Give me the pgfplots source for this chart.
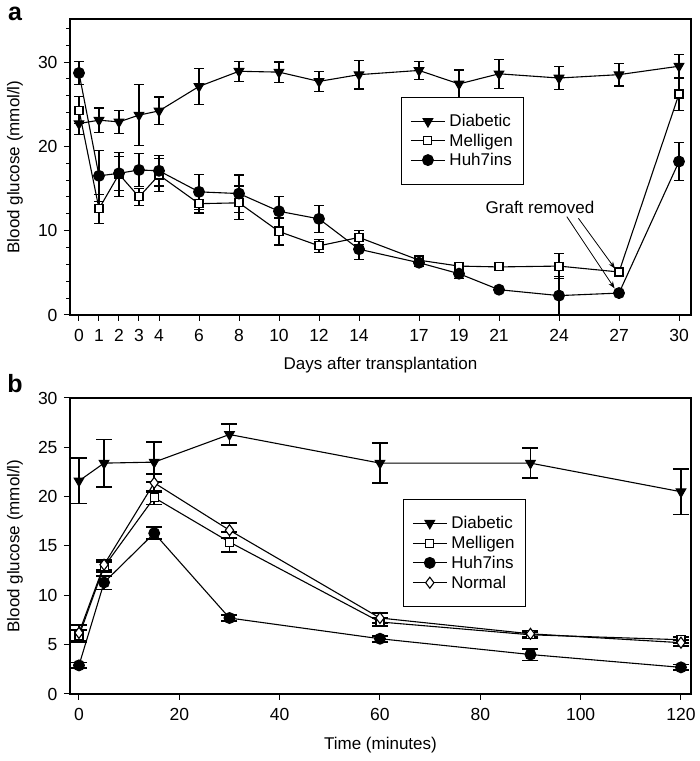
\documentclass[border=0pt]{standalone}
\usepackage{fontspec}
\setmainfont{Liberation Sans}
\usepackage{pgfplots}
\pgfplotsset{compat=1.18}
\usetikzlibrary{arrows.meta}
\pgfplotsset{
  common/.style={
    scale only axis, width=621pt, height=296pt,
    axis line style={line width=1.8pt},
    tick align=outside, xtick pos=left, ytick pos=left,
    major tick length=6pt, minor tick length=3.5pt,
    every tick/.style={black, line width=1pt},
    /pgf/number format/assume math mode=true,
    tick label style={font=\fontsize{17.5}{20}\selectfont},
    xticklabel style={yshift=-5pt},
    yticklabel style={xshift=-3pt},
    label style={font=\fontsize{17}{20}\selectfont},
    legend cell align=left,
    legend style={font=\fontsize{17}{20}\selectfont, draw=black, line width=0.8pt,
      anchor=north west, inner xsep=9pt, inner ysep=15pt, row sep=1.5pt, column sep=2pt},
    legend image code/.code={\draw[mark repeat=2,mark phase=2] plot coordinates {(0pt,0pt) (17pt,0pt) (34pt,0pt)};},
    every axis plot/.append style={line width=1.1pt, black},
  },
  diab/.style={mark=triangle*, mark size=5.5pt, mark options={rotate=180, fill=black}},
  mell/.style={mark=square*, mark size=4pt, mark options={fill=white}},
  huh/.style={mark=*, mark size=5.4pt, mark options={fill=black}},
  norm/.style={mark=diamond*, mark size=5.5pt, mark options={fill=white}},
}
\begin{document}
\begin{tikzpicture}
\useasboundingbox (0,0) rectangle (700pt,761pt);
\node[font=\bfseries\fontsize{25}{28}\selectfont] at (15pt,747pt) {a};
\node[font=\bfseries\fontsize{25}{28}\selectfont] at (15pt,377pt) {b};
% ---------------- panel a
\begin{axis}[common, at={(70pt,446pt)}, anchor=south west,
  xmin=-0.45, xmax=30.6, ymin=0, ymax=35.1,
  xtick={0,1,2,3,4,6,8,10,12,14,17,19,21,24,27,30},
  ytick={0,10,20,30}, minor ytick={2,4,6,8,12,14,16,18,22,24,26,28,32,34},
  xlabel={Days after transplantation}, ylabel={Blood glucose (mmol/l)},
  xlabel style={at={(axis description cs:0.5,-0.168)}, anchor=center},
  ylabel style={at={(axis description cs:-0.0886,0.5)}, anchor=center},
  legend style={at={(0.533,0.736)}},
  error bars/y dir=both, error bars/y explicit,
  error bars/error bar style={line width=1.1pt},
  error bars/error mark options={rotate=90, mark size=5pt, line width=1.1pt},
]
\addplot[diab] table[x=x, y=y, y error=e] {
x y e
0 22.7 1.35
1 23.1 1.45
2 22.9 1.4
3 23.7 3.6
4 24.2 1.65
6 27.1 2.1
8 28.9 1.2
10 28.8 1.2
12 27.7 1.15
14 28.5 1.7
17 29.0 1.05
19 27.4 1.65
21 28.6 1.7
24 28.1 1.4
27 28.5 1.35
30 29.5 1.4
};
\addlegendentry{Diabetic}
\addplot[mell] table[x=x, y=y, y error=e] {
x y e
0 24.3 1.6
1 12.6 1.7
2 16.7 2.6
3 14.0 1.0
4 16.6 2.0
6 13.2 1.1
8 13.3 2.0
10 9.9 1.6
12 8.2 0.8
14 9.2 0.8
17 6.5 0.5
19 5.8 0.4
21 5.7 0.3
24 5.8 1.5
27 5.1 0.4
30 26.2 1.9
};
\addlegendentry{Melligen}
\addplot[huh] table[x=x, y=y, y error=e] {
x y e
0 28.7 1.4
1 16.5 3.0
2 16.8 2.0
3 17.2 2.0
4 17.1 1.8
6 14.6 2.1
8 14.4 2.2
10 12.3 1.8
12 11.4 1.6
14 7.8 1.2
17 6.2 0.5
19 4.9 0.6
21 3.0 0.2
24 2.3 2.3
27 2.6 0.2
30 18.2 2.3
};
\addlegendentry{Huh7ins}
\node[font=\fontsize{17}{20}\selectfont] at (axis cs:23.05,12.7) {Graft removed};
\draw[-{Stealth[length=7pt,width=5pt]}, line width=0.8pt] (axis cs:24.39,11.66) -- (axis cs:26.78,3.15);
\draw[-{Stealth[length=7pt,width=5pt]}, line width=0.8pt] (axis cs:24.97,11.47) -- (axis cs:26.8,5.5);
\end{axis}
% ---------------- panel b
\begin{axis}[common, at={(70pt,67pt)}, anchor=south west,
  xmin=-1.79, xmax=122, ymin=0, ymax=30,
  xtick={0,20,40,60,80,100,120}, ytick={0,5,10,15,20,25,30},
  xlabel={Time (minutes)}, ylabel={Blood glucose (mmol/l)},
  xlabel style={at={(axis description cs:0.5,-0.172)}, anchor=center},
  ylabel style={at={(axis description cs:-0.0886,0.5)}, anchor=center},
  legend style={at={(0.536,0.659)}, row sep=2pt},
  error bars/y dir=both, error bars/y explicit,
  error bars/error bar style={line width=1.8pt},
  error bars/error mark options={rotate=90, mark size=8pt, line width=1.8pt},
]
\addplot[diab] table[x=x, y=y, y error=e] {
x y e
0 21.6 2.3
5 23.4 2.4
15 23.5 2.0
30 26.3 1.05
60 23.4 2.05
90 23.4 1.5
120 20.5 2.3
};
\addlegendentry{Diabetic}
\addplot[mell] table[x=x, y=y, y error=e] {
x y e
0 5.9 0.6
5 12.9 0.5
15 19.9 0.7
30 15.4 1.0
60 7.3 0.4
90 6.0 0.3
120 5.5 0.3
};
\addlegendentry{Melligen}
\addplot[huh] table[x=x, y=y, y error=e] {
x y e
0 2.9 0.3
5 11.3 0.7
15 16.3 0.6
30 7.7 0.3
60 5.6 0.3
90 4.0 0.6
120 2.7 0.3
};
\addlegendentry{Huh7ins}
\addplot[norm] table[x=x, y=y, y error=e] {
x y e
0 6.2 0.8
5 13.1 0.5
15 21.4 0.9
30 16.6 0.75
60 7.7 0.5
90 6.1 0.3
120 5.2 0.3
};
\addlegendentry{Normal}
\end{axis}
\end{tikzpicture}
\end{document}
